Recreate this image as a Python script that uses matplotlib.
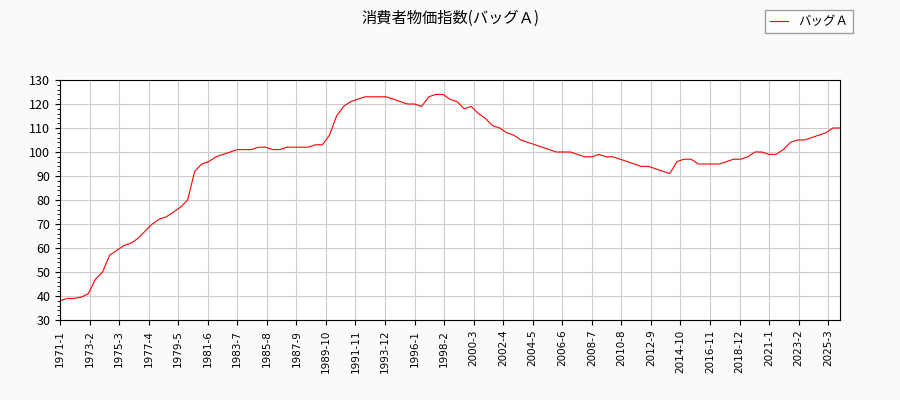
import matplotlib
matplotlib.use("Agg")
import matplotlib.pyplot as plt

plt.rcParams['font.family'] = ['Noto Sans CJK JP', 'DejaVu Sans']

start_year = 1971
# semi-annual readings (Jan, Jul) from 1971-1
values = [38, 39, 39, 39.5, 41, 47, 50, 57, 59, 61, 62, 64, 67, 70, 72, 73, 75, 77,
          80, 92, 95, 96, 98, 99, 100, 101, 101, 101, 102, 102, 101, 101, 102, 102,
          102, 102, 103, 103, 107, 115, 119, 121, 122, 123, 123, 123, 123, 122,
          121, 120, 120, 119, 123, 124, 124, 122, 121, 118, 119, 116, 114, 111,
          110, 108, 107, 105, 104, 103, 102, 101, 100, 100, 100, 99, 98, 98, 99, 98,
          98, 97, 96, 95, 94, 94, 93, 92, 91, 96, 97, 97, 95, 95, 95, 95, 96, 97,
          97, 98, 100, 100, 99, 99, 101, 104, 105, 105, 106, 107, 108, 110, 110]
months = [i * 6 for i in range(len(values))]
months[-1] = 660
tick_labels = []
tick_pos = list(range(0, 660, 25))
for p in tick_pos:
    y, m = divmod(p, 12)
    tick_labels.append(f"{start_year + y}-{m + 1}")

fig = plt.figure(figsize=(9, 4), dpi=100, facecolor='#fafafa')
ax = fig.add_axes([60/900, 80/400, 780/900, 240/400])
ax.plot(months, values, color='red', lw=0.8, label='バッグＡ')
ax.set_xlim(0, 660)
ax.set_ylim(30, 130)
ax.set_yticks(range(30, 131, 10))
ax.set_yticks(range(30, 131, 2), minor=True)
ax.set_xticks(tick_pos)
ax.set_xticklabels(tick_labels, rotation=90, fontsize=7.5, family=['DejaVu Sans'])
ax.tick_params(axis='y', labelsize=9)
ax.grid(True, color='#cccccc', lw=0.8)
ax.set_axisbelow(True)
fig.suptitle('消費者物価指数(バッグＡ)', x=0.5, y=0.975, fontsize=11)
fig.legend(loc='upper right', bbox_to_anchor=(0.955, 0.99), fontsize=9, fancybox=False,
           edgecolor='#888888', handlelength=1.5)
fig.savefig('out.png', facecolor=fig.get_facecolor())
